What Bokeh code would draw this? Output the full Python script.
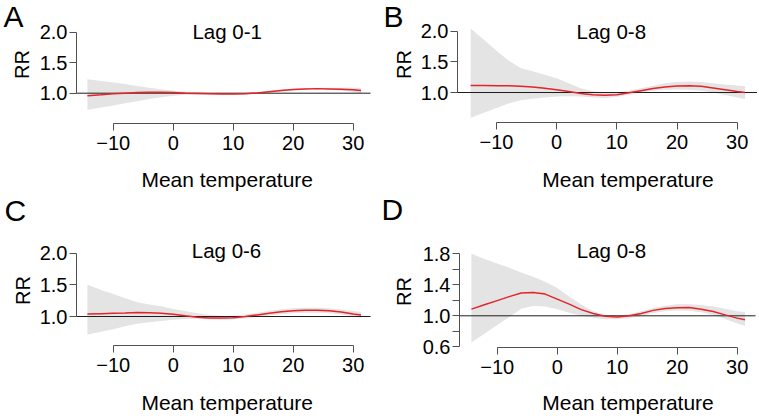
import math
from bokeh.plotting import figure
from bokeh.models import (FixedTicker, PrintfTickFormatter, Label, ColumnDataSource,
                          LinearAxis, Range1d)
from bokeh.embed import file_html
from bokeh.resources import INLINE

# ---------------- data ----------------
temperature = [-14.3, -12, -10, -8, -6, -4, -2, 0, 2, 4, 6, 8, 10, 12, 14, 16,
               18, 20, 22, 24, 26, 28, 30, 31.3]

# Panel A, Lag 0-1
a_rr = [0.96, 0.975, 0.99, 1.0, 1.01, 1.015, 1.015, 1.01, 1.0, 0.995, 0.99, 0.985,
        0.985, 0.99, 1.005, 1.025, 1.045, 1.06, 1.07, 1.075, 1.07, 1.065, 1.055, 1.045]
a_low = [0.73, 0.765, 0.80, 0.835, 0.87, 0.905, 0.935, 0.96, 0.975, 0.98, 0.98, 0.975,
         0.975, 0.98, 0.995, 1.01, 1.03, 1.045, 1.055, 1.06, 1.055, 1.045, 1.025, 1.0]
a_high = [1.23, 1.20, 1.175, 1.15, 1.12, 1.09, 1.065, 1.04, 1.025, 1.01, 1.0, 0.995,
          0.995, 1.0, 1.015, 1.04, 1.06, 1.075, 1.085, 1.09, 1.09, 1.09, 1.09, 1.09]

# Panel B, Lag 0-8
b_rr = [1.115, 1.113, 1.11, 1.108, 1.103, 1.09, 1.07, 1.045, 1.015, 0.985, 0.962, 0.955,
        0.965, 0.995, 1.03, 1.065, 1.09, 1.105, 1.11, 1.10, 1.075, 1.045, 1.015, 1.0]
b_low = [0.59, 0.675, 0.75, 0.82, 0.875, 0.90, 0.92, 0.935, 0.94, 0.935, 0.92, 0.91,
         0.93, 0.965, 1.0, 1.03, 1.045, 1.05, 1.045, 1.03, 1.0, 0.96, 0.92, 0.895]
b_high = [2.04, 1.85, 1.68, 1.52, 1.40, 1.345, 1.29, 1.23, 1.15, 1.07, 1.02, 1.0,
          1.0, 1.03, 1.07, 1.11, 1.15, 1.17, 1.18, 1.17, 1.15, 1.13, 1.115, 1.105]

# Panel C, Lag 0-6
c_rr = [1.04, 1.045, 1.05, 1.055, 1.065, 1.06, 1.05, 1.035, 1.01, 0.99, 0.978, 0.975,
        0.982, 1.0, 1.025, 1.05, 1.075, 1.09, 1.10, 1.10, 1.09, 1.07, 1.04, 1.025]
c_low = [0.714, 0.76, 0.80, 0.845, 0.885, 0.91, 0.93, 0.95, 0.96, 0.965, 0.955, 0.95,
         0.955, 0.97, 0.99, 1.015, 1.035, 1.05, 1.06, 1.06, 1.05, 1.03, 1.0, 0.975]
c_high = [1.50, 1.42, 1.355, 1.29, 1.225, 1.19, 1.16, 1.12, 1.085, 1.05, 1.025, 1.01,
          1.01, 1.03, 1.06, 1.09, 1.115, 1.13, 1.14, 1.14, 1.13, 1.11, 1.085, 1.07]

# Panel D, Lag 0-8
d_rr = [1.086, 1.145, 1.196, 1.247, 1.295, 1.30, 1.28, 1.215, 1.15, 1.08, 1.03, 0.993,
        0.983, 1.0, 1.03, 1.07, 1.095, 1.105, 1.107, 1.085, 1.055, 1.012, 0.97, 0.948]
d_low = [0.656, 0.776, 0.88, 0.985, 1.09, 1.125, 1.12, 1.085, 1.04, 1.0, 0.975, 0.955,
         0.955, 0.97, 1.0, 1.035, 1.06, 1.07, 1.065, 1.045, 1.01, 0.96, 0.90, 0.87]
d_high = [1.80, 1.73, 1.675, 1.62, 1.56, 1.505, 1.44, 1.36, 1.25, 1.145, 1.06, 1.01,
          1.0, 1.02, 1.06, 1.10, 1.13, 1.15, 1.15, 1.14, 1.12, 1.09, 1.06, 1.05]

panel_letters = ["A", "B", "C", "D"]
panel_titles = ["Lag 0-1", "Lag 0-8", "Lag 0-6", "Lag 0-8"]
x_ticks = [-10, 0, 10, 20, 30]
x_tick_labels = {-10: "\u221210"}
y_ticks_abc = [1.0, 1.5, 2.0]
y_ticks_d = [0.6, 1.0, 1.4, 1.8]
y_minor_d = [0.8, 1.2, 1.6]
reference_rr = 1.0
x_label = "Mean temperature"
y_label = "RR"

# ---------------- styling / layout (page pixels) ----------------
FONT = "Liberation Sans"
AXIS_COLOR = "#505050"
REF_COLOR = "#1e1e1e"
BAND_COLOR = "#e4e4e4"
LINE_COLOR = "#e6222a"

W, H = 757, 416          # canvas at the page's top-left corner
p = figure(width=W, height=H, x_range=Range1d(0, W), y_range=Range1d(H, 0),
           output_backend="svg", toolbar_location=None,
           x_axis_location=None, y_axis_location=None,
           min_border=0, min_border_left=0, min_border_right=0,
           min_border_top=0, min_border_bottom=0)
p.outline_line_color = None
p.background_fill_color = "white"
p.border_fill_color = "white"
for g in p.grid:
    g.visible = False

# pixel calibration of each panel: (px of x-ref, x-ref, px/unit), (py of y-ref, y-ref, px/unit)
# text positions are the visual centres of the texts
panels = [
    dict(key="A", xcal=(112.7, -10, 6.0), ycal=(92.7, 1.0, 61.0), yaxis_px=76, xaxis_py=123,
         right_px=370, letter_pos=(3, 15.5), title_pos=(226.7, 31),
         ylab_pos=(21.5, 64), xlab_pos=(226.7, 179),
         rr=a_rr, low=a_low, high=a_high, yticks=y_ticks_abc, yminor=[]),
    dict(key="B", xcal=(496, -10, 6.017), ycal=(92, 1.0, 61.5), yaxis_px=457, xaxis_py=122,
         right_px=758, letter_pos=(383, 15.5), title_pos=(610.8, 31),
         ylab_pos=(403, 64), xlab_pos=(627.5, 179),
         rr=b_rr, low=b_low, high=b_high, yticks=y_ticks_abc, yminor=[]),
    dict(key="C", xcal=(112.7, -10, 6.0), ycal=(316, 1.0, 63.3), yaxis_px=76, xaxis_py=345,
         right_px=370, letter_pos=(4, 209.5), title_pos=(226, 250),
         ylab_pos=(22, 290), xlab_pos=(226.7, 402),
         rr=c_rr, low=c_low, high=c_high, yticks=y_ticks_abc, yminor=[]),
    dict(key="D", xcal=(496.7, -10, 6.0), ycal=(315.3, 1.0, 77.5), yaxis_px=459, xaxis_py=347,
         right_px=755, letter_pos=(381, 209), title_pos=(611, 250),
         ylab_pos=(403, 291), xlab_pos=(627.5, 402),
         rr=d_rr, low=d_low, high=d_high, yticks=y_ticks_d, yminor=y_minor_d),
]

extra_x, extra_y = {}, {}
for cfg in panels:
    xp, xv, xs = cfg["xcal"]
    yp, yv, ys = cfg["ycal"]
    cfg["to_x"] = (lambda px, xp=xp, xv=xv, xs=xs: xv + (px - xp) / xs)
    cfg["to_y"] = (lambda py, yp=yp, yv=yv, ys=ys: yv + (yp - py) / ys)
    extra_x["x" + cfg["key"]] = Range1d(cfg["to_x"](0), cfg["to_x"](W))
    extra_y["y" + cfg["key"]] = Range1d(cfg["to_y"](H), cfg["to_y"](0))
p.extra_x_ranges = extra_x
p.extra_y_ranges = extra_y


def style_axis(ax):
    ax.axis_line_color = AXIS_COLOR
    ax.axis_line_width = 1
    ax.major_tick_line_color = AXIS_COLOR
    ax.minor_tick_line_color = AXIS_COLOR
    ax.major_tick_in = 0
    ax.major_tick_out = 7
    ax.minor_tick_in = 0
    ax.minor_tick_out = 7
    ax.major_label_text_font = FONT
    ax.major_label_text_font_size = "20px"
    ax.major_label_text_color = "black"


def text_label(x, y, text, size, align="center", angle=0.0):
    return Label(x=x, y=y, text=text, text_align=align, text_baseline="middle",
                 text_font=FONT, text_font_size=size, text_color="black", angle=angle)


for i, cfg in enumerate(panels):
    xn, yn = "x" + cfg["key"], "y" + cfg["key"]
    src = ColumnDataSource(dict(t=temperature, rr=cfg["rr"], low=cfg["low"], high=cfg["high"]))
    p.varea(x="t", y1="low", y2="high", source=src, fill_color=BAND_COLOR,
            x_range_name=xn, y_range_name=yn)
    p.segment(x0=[cfg["to_x"](cfg["yaxis_px"])], x1=[cfg["to_x"](cfg["right_px"])],
              y0=[reference_rr], y1=[reference_rr], line_color=REF_COLOR, line_width=1,
              x_range_name=xn, y_range_name=yn)
    p.line(x="t", y="rr", source=src, line_color=LINE_COLOR, line_width=1.5,
           x_range_name=xn, y_range_name=yn)

    ya = LinearAxis(x_range_name=xn, y_range_name=yn,
                    fixed_location=cfg["to_x"](cfg["yaxis_px"]))
    style_axis(ya)
    ya.ticker = FixedTicker(ticks=cfg["yticks"], minor_ticks=cfg["yminor"])
    ya.bounds = (min(cfg["yticks"]), max(cfg["yticks"]))
    ya.formatter = PrintfTickFormatter(format="%.1f")
    ya.major_label_standoff = 2
    p.add_layout(ya, "left")

    xa = LinearAxis(x_range_name=xn, y_range_name=yn,
                    fixed_location=cfg["to_y"](cfg["xaxis_py"]))
    style_axis(xa)
    xa.ticker = FixedTicker(ticks=x_ticks)
    xa.bounds = (x_ticks[0], x_ticks[-1])
    xa.formatter = PrintfTickFormatter(format="%d")
    xa.major_label_overrides = x_tick_labels
    xa.major_label_standoff = 5
    p.add_layout(xa, "below")

    p.add_layout(text_label(cfg["xlab_pos"][0], cfg["xlab_pos"][1], x_label, "21px"))
    p.add_layout(text_label(cfg["ylab_pos"][0], cfg["ylab_pos"][1], y_label, "20px",
                            angle=math.pi / 2))
    p.add_layout(text_label(cfg["title_pos"][0], cfg["title_pos"][1], panel_titles[i],
                            "20.5px"))
    p.add_layout(text_label(cfg["letter_pos"][0], cfg["letter_pos"][1], panel_letters[i],
                            "30px", align="left"))

open("out.html", "w").write(file_html(p, INLINE))
